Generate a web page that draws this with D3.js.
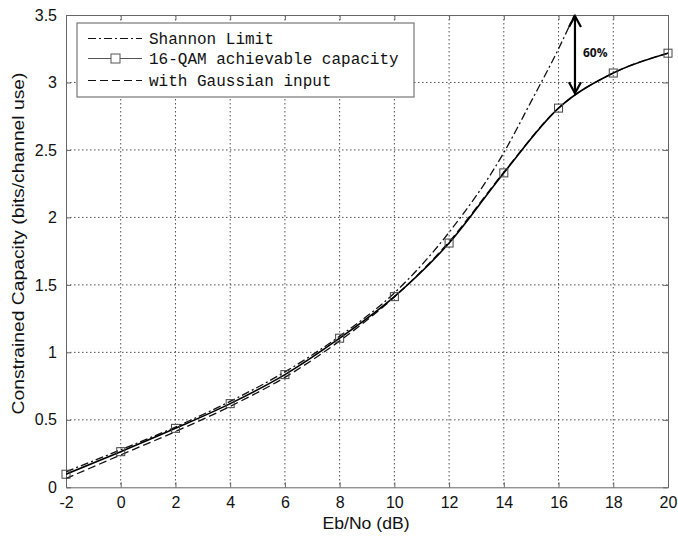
<!DOCTYPE html>
<html><head><meta charset="utf-8">
<script src="https://cdn.jsdelivr.net/npm/d3@7"></script>
<style>body{margin:0;background:#fff}svg{display:block}</style>
</head><body><svg id="c" width="678" height="539"></svg>
<script>
const xTicks = [-2,0,2,4,6,8,10,12,14,16,18,20];
const yTicks = [0,0.5,1,1.5,2,2.5,3,3.5];
const ebno = [-2,0,2,4,6,8,10,12,14,16,18,20];
const qam16 = [0.097,0.264,0.437,0.62,0.835,1.105,1.413,1.81,2.33,2.81,3.07,3.217];
const gaussian = [0.065,0.24,0.413,0.60,0.815,1.085,1.41,1.82,2.335,2.81,3.07,3.217];
const shannonX = [-2,0,2,4,6,8,10,12,14,15,16,17];
const shannon = [0.115,0.278,0.447,0.637,0.855,1.12,1.44,1.89,2.48,2.86,3.25,3.69];
const legendLabels = ["Shannon Limit","16-QAM achievable capacity","with Gaussian input"];
const arrowX = 16.6, arrowTop = 3.5, arrowBottom = 2.92, arrowLabel = "60%";
const xLabel = "Eb/No (dB)", yLabel = "Constrained Capacity (bits/channel use)";

const svg = d3.select("#c");
const L = 66, R = 668, T = 15, B = 487.3;
const x = d3.scaleLinear().domain([-2,20]).range([L,R]);
const y = d3.scaleLinear().domain([0,3.5]).range([B,T]);

svg.append("defs").append("clipPath").attr("id","pc")
  .append("rect").attr("x",L).attr("y",T).attr("width",R-L).attr("height",B-T);

// grid
const g = svg.append("g");
g.selectAll(".gx").data(xTicks.slice(1,-1)).join("line")
  .attr("x1",d=>x(d)).attr("x2",d=>x(d)).attr("y1",T).attr("y2",B)
  .attr("stroke","#222").attr("stroke-width",0.8).attr("stroke-dasharray","1.5,2.5");
g.selectAll(".gy").data(yTicks.slice(1,-1)).join("line")
  .attr("y1",d=>y(d)).attr("y2",d=>y(d)).attr("x1",L).attr("x2",R)
  .attr("stroke","#222").attr("stroke-width",0.8).attr("stroke-dasharray","1.5,2.5");

// axes with inward ticks
const axB = d3.axisBottom(x).tickValues(xTicks).tickSizeInner(-5).tickSizeOuter(0).tickPadding(9).tickFormat(d=>d);
const axL = d3.axisLeft(y).tickValues(yTicks).tickSizeInner(-5).tickSizeOuter(0).tickPadding(9).tickFormat(d=>d);
const axT = d3.axisTop(x).tickValues(xTicks).tickSizeInner(-5).tickSizeOuter(0).tickFormat("");
const axR = d3.axisRight(y).tickValues(yTicks).tickSizeInner(-5).tickSizeOuter(0).tickFormat("");
function style(sel){
  sel.select(".domain").attr("stroke","#666");
  sel.selectAll(".tick line").attr("stroke","#666");
  sel.selectAll("text").attr("font-family","Liberation Sans, Arial, sans-serif").attr("font-size",16).attr("fill","#111");
}
svg.append("g").attr("transform",`translate(0,${B})`).call(axB).call(style);
svg.append("g").attr("transform",`translate(${L},0)`).call(axL).call(style);
svg.append("g").attr("transform",`translate(0,${T})`).call(axT).call(style);
svg.append("g").attr("transform",`translate(${R},0)`).call(axR).call(style);

// lines
const line = d3.line().x(d=>x(d[0])).y(d=>y(d[1])).curve(d3.curveMonotoneX);
const plot = svg.append("g").attr("clip-path","url(#pc)");
plot.append("path").datum(shannonX.map((v,i)=>[v,shannon[i]])).attr("d",line)
  .attr("fill","none").attr("stroke","#111").attr("stroke-width",1.3).attr("stroke-dasharray","8,3,2,3");
plot.append("path").datum(ebno.map((v,i)=>[v,gaussian[i]])).attr("d",line)
  .attr("fill","none").attr("stroke","#111").attr("stroke-width",1.3).attr("stroke-dasharray","8,4");
plot.append("path").datum(ebno.map((v,i)=>[v,qam16[i]])).attr("d",line)
  .attr("fill","none").attr("stroke","#000").attr("stroke-width",1.6);
svg.append("g").selectAll("rect").data(ebno.map((v,i)=>[v,qam16[i]])).join("rect")
  .attr("x",d=>x(d[0])-4).attr("y",d=>y(d[1])-4).attr("width",8).attr("height",8)
  .attr("fill","none").attr("stroke","#444").attr("stroke-width",1);

// arrow annotation
const ax = x(arrowX), ay1 = y(arrowTop)+1, ay2 = y(arrowBottom);
const ann = svg.append("g").attr("stroke","#000").attr("stroke-width",2.2).attr("fill","none");
ann.append("line").attr("x1",ax).attr("x2",ax).attr("y1",ay1).attr("y2",ay2);
ann.append("path").attr("d",`M${ax-6},${ay1+11}L${ax},${ay1}L${ax+6},${ay1+11}`);
ann.append("path").attr("d",`M${ax-6},${ay2-11}L${ax},${ay2}L${ax+6},${ay2-11}`);
svg.append("text").attr("x",ax+8).attr("y",y(3.5)+42).text(arrowLabel)
  .attr("font-family","Open Sans, Liberation Sans, sans-serif").attr("font-size",12).attr("font-weight","bold").attr("fill","#111");

// legend
const lg = svg.append("g");
lg.append("rect").attr("x",77).attr("y",23).attr("width",337).attr("height",74)
  .attr("fill","#fff").attr("stroke","#777").attr("stroke-width",1.2);
const rows = [38.5,58.5,80.5];
const dashes = ["8,3,2,3",null,"8,4"];
legendLabels.forEach((t,i)=>{
  const ln = lg.append("line").attr("x1",88).attr("x2",142).attr("y1",rows[i]).attr("y2",rows[i])
    .attr("stroke",i===1?"#555":"#111").attr("stroke-width",1.2);
  if(dashes[i]) ln.attr("stroke-dasharray",dashes[i]);
  if(i===1) lg.append("rect").attr("x",111).attr("y",rows[i]-4.5).attr("width",9).attr("height",9)
    .attr("fill","#fff").attr("stroke","#555");
  lg.append("text").attr("x",149).attr("y",rows[i]).attr("dy","0.32em").text(t)
    .attr("font-family","Liberation Mono, Courier New, monospace").attr("font-size",16).attr("fill","#111");
});

// axis labels
svg.append("text").attr("x",366).attr("y",529).attr("text-anchor","middle").text(xLabel)
  .attr("textLength",87).attr("lengthAdjust","spacingAndGlyphs")
  .attr("font-family","Liberation Sans, Arial, sans-serif").attr("font-size",16).attr("fill","#111");
svg.append("text").attr("transform","translate(24,243.5) rotate(-90)").attr("text-anchor","middle").text(yLabel)
  .attr("textLength",342).attr("lengthAdjust","spacingAndGlyphs")
  .attr("font-family","Liberation Sans, Arial, sans-serif").attr("font-size",16).attr("fill","#111");
</script></body></html>
